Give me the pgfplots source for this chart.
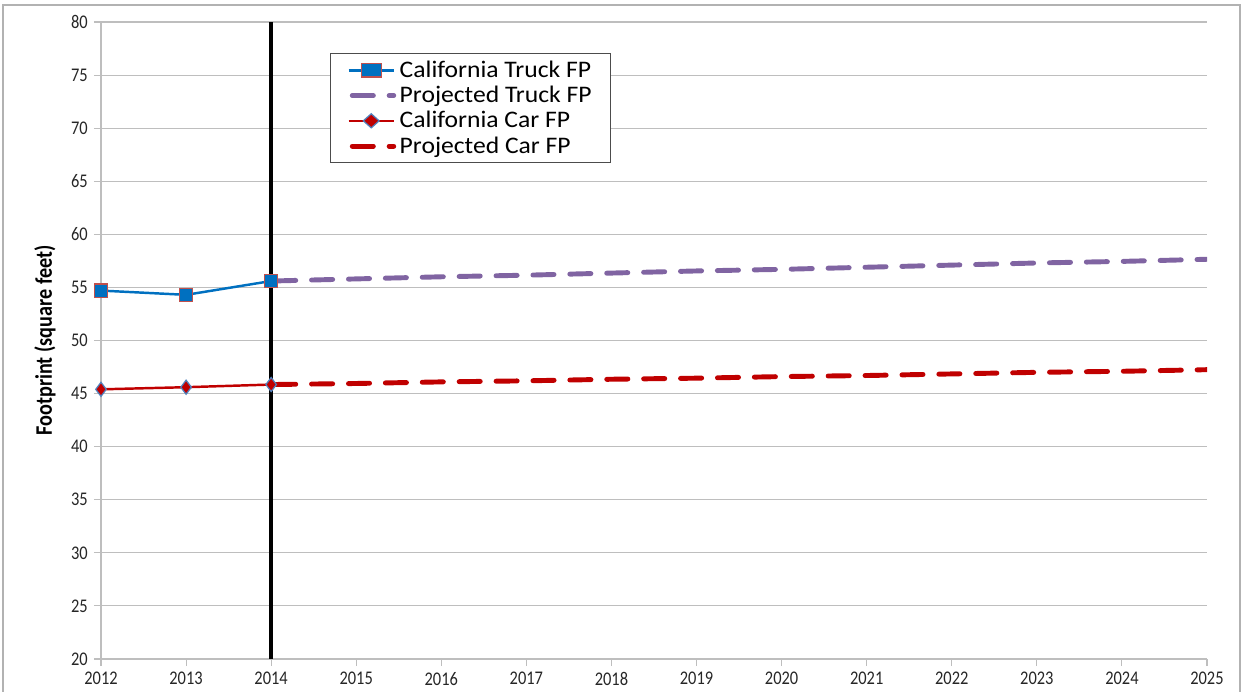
\documentclass[border=0pt]{standalone}
\usepackage{fontspec}
\setmainfont{Carlito}
\newfontfamily\narrow[FakeStretch=0.85]{Carlito}
\newfontfamily\wide[FakeStretch=1.08]{Carlito}
\usepackage{pgfplots}
\pgfplotsset{compat=1.18}
\definecolor{truckblue}{RGB}{0,112,192}
\definecolor{truckedge}{RGB}{192,80,77}
\definecolor{projpurple}{RGB}{128,100,162}
\definecolor{carred}{RGB}{192,0,0}
\definecolor{caredge}{RGB}{79,129,189}
\definecolor{gridgray}{RGB}{190,190,190}
\begin{document}
\begin{tikzpicture}
\useasboundingbox (-2.02cm,-0.66cm) rectangle (22.86cm,13.18cm);
\draw[gray!60, line width=0.8pt] (-1.96cm,-0.8cm) rectangle (22.78cm,13.08cm);
\begin{axis}[
  scale only axis,
  width=22.12cm, height=12.74cm,
  at={(0,0)}, anchor=south west,
  xmin=2012, xmax=2025, ymin=20, ymax=80,
  xtick={2012,2013,...,2025},
  ytick={20,25,...,80},
  x tick label style={/pgf/number format/1000 sep={}},
  /pgf/number format/assume math mode=true,
  tick label style={font=\narrow\fontsize{11}{12}\selectfont, text=black!85},
  axis x line*=bottom, axis y line*=left,
  axis line style={gridgray, line width=0.6pt},
  tick style={gridgray, line width=0.6pt},
  tick align=outside,
  major tick length=4pt,
  ymajorgrids, grid style={gridgray, line width=0.6pt},
  ylabel={\narrow\bfseries\fontsize{13.5}{15}\selectfont Footprint (square feet)},
  ylabel style={yshift=2pt},
  legend cell align=left,
  legend style={at={(0.207,0.951)}, anchor=north west, draw=black!70,
    line width=0.6pt, font=\wide\fontsize{13.5}{15}\selectfont,
    row sep=-0.5pt, inner xsep=9pt, inner ysep=2pt},
  legend image post style={xscale=1.5},
]
\addplot[black, line width=2.3pt, forget plot] coordinates {(2014,20) (2014,80)};
\addplot[truckblue, line width=1.4pt, mark=square*,
  mark options={fill=truckblue, draw=truckedge, line width=0.7pt, mark size=3.8pt}]
  coordinates {(2012,54.7) (2013,54.3) (2014,55.6)};
\addplot[projpurple, line width=2.8pt, line cap=round,
  dash pattern=on 12pt off 9pt, dash phase=-2pt]
  coordinates {(2014,55.6) (2015,55.8) (2016,56.0) (2017,56.15) (2018,56.35)
    (2019,56.55) (2020,56.7) (2021,56.9) (2022,57.1) (2023,57.3) (2024,57.45) (2025,57.65)};
\addplot[carred, line width=1.4pt, mark=diamond*,
  mark options={fill=carred, draw=caredge, line width=0.7pt, mark size=4pt}]
  coordinates {(2012,45.4) (2013,45.6) (2014,45.85)};
\addplot[carred, line width=2.8pt, line cap=round,
  dash pattern=on 12pt off 9pt, dash phase=-2pt]
  coordinates {(2014,45.85) (2015,45.95) (2016,46.1) (2017,46.2) (2018,46.35)
    (2019,46.45) (2020,46.6) (2021,46.7) (2022,46.85) (2023,47.0) (2024,47.1) (2025,47.25)};
\legend{California Truck FP, Projected Truck FP, California Car FP, Projected Car FP}
\end{axis}
\end{tikzpicture}
\end{document}
